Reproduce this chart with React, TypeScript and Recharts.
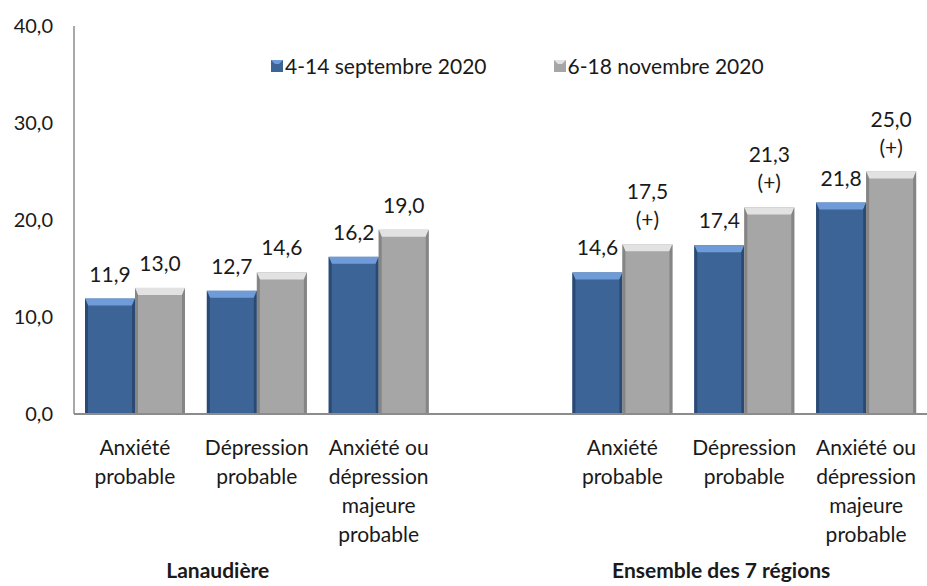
import { BarChart, Bar, XAxis, YAxis, Legend, LabelList } from "recharts";

const categories = [
  ["Anxiété", "probable"],
  ["Dépression", "probable"],
  ["Anxiété ou", "dépression", "majeure", "probable"],
  [],
  ["Anxiété", "probable"],
  ["Dépression", "probable"],
  ["Anxiété ou", "dépression", "majeure", "probable"],
];
const septembre = [11.9, 12.7, 16.2, null, 14.6, 17.4, 21.8];
const novembre = [13.0, 14.6, 19.0, null, 17.5, 21.3, 25.0];
const significatif = [false, false, false, false, true, true, true];
const groupes = [
  { index: 1, label: "Lanaudière", dx: -39 },
  { index: 5, label: "Ensemble des 7 régions", dx: -23 },
];
const yTicks = [0, 10, 20, 30, 40];

const data = categories.map((c, i) => ({
  key: "c" + i,
  sept: septembre[i],
  nov: novembre[i],
  sig: significatif[i],
}));

const FONT = "Lato, 'Open Sans', sans-serif";
const fmt = (v: number) => v.toFixed(1).replace(".", ",");

const palettes: Record<string, { main: string; top: string; side: string }> = {
  sept: { main: "#3C6496", top: "#6F9CD8", side: "#2A4A74" },
  nov: { main: "#A6A6A6", top: "#E2E2E2", side: "#858585" },
};

const BevelBar = (props: any) => {
  const { x, y, width, height, pal } = props;
  if (!height || height <= 0) return null;
  const p = palettes[pal];
  const b = 7;
  const s = 3;
  return (
    <g>
      <rect x={x} y={y} width={width} height={height} fill={p.main} />
      <polygon
        points={`${x},${y} ${x + width},${y} ${x + width - s},${y + b} ${x + s},${y + b}`}
        fill={p.top}
      />
      <polygon
        points={`${x},${y} ${x + s},${y + b} ${x + s},${y + height} ${x},${y + height}`}
        fill={p.side}
      />
      <polygon
        points={`${x + width},${y} ${x + width - s},${y + b} ${x + width - s},${y + height} ${x + width},${y + height}`}
        fill={p.side}
      />
    </g>
  );
};

// label value is "12,3" or "12,3|(+)"
const ValueLabel = (props: any) => {
  const { x, y, width, value } = props;
  if (value == null || value === "") return null;
  const cx = x + width / 2;
  const lines = String(value).split("|");
  return (
    <text textAnchor="middle" fontFamily={FONT} fontSize={21} fill="#1a1a1a">
      {lines.map((l, k) => (
        <tspan key={k} x={cx} y={y - 17 - (lines.length - 1 - k) * 28}>
          {l}
        </tspan>
      ))}
    </text>
  );
};

const CategoryTick = (props: any) => {
  const { x, y, payload } = props;
  const i = payload.index;
  const lines = categories[i] || [];
  const g = groupes.find((gr) => gr.index === i);
  return (
    <g>
      <text textAnchor="middle" fontFamily={FONT} fontSize={21} fill="#1a1a1a">
        {lines.map((l, k) => (
          <tspan key={k} x={x} y={y + 33 + k * 29}>
            {l}
          </tspan>
        ))}
      </text>
      {g && (
        <text
          x={x + g.dx}
          y={y + 156}
          textAnchor="middle"
          fontFamily={FONT}
          fontSize={21}
          fontWeight="bold"
          fill="#1a1a1a"
        >
          {g.label}
        </text>
      )}
    </g>
  );
};

const LegendIcon = ({ pal }: { pal: string }) => {
  const p = palettes[pal];
  return (
    <svg width={12} height={12} style={{ marginRight: 2 }}>
      <rect x={0} y={0} width={12} height={12} fill={p.main} />
      <polygon points="0,0 12,0 8,4 4,4" fill={p.top} />
    </svg>
  );
};

const CustomLegend = () => (
  <div
    style={{
      display: "flex",
      fontFamily: FONT,
      fontSize: 21,
      color: "#1a1a1a",
      paddingLeft: 271,
    }}
  >
    <div style={{ display: "flex", alignItems: "center", marginRight: 67 }}>
      <LegendIcon pal="sept" />
      4-14 septembre 2020
    </div>
    <div style={{ display: "flex", alignItems: "center" }}>
      <LegendIcon pal="nov" />
      6-18 novembre 2020
    </div>
  </div>
);

export default function App() {
  return (
    <div style={{ position: "absolute", left: 0, top: 0, background: "#fff" }}>
      <BarChart
        width={927}
        height={586}
        data={data}
        margin={{ top: 26, right: 0, left: 0, bottom: 0 }}
        barCategoryGap={11}
        barGap={0}
      >
        <XAxis
          dataKey="key"
          height={172}
          tick={<CategoryTick />}
          tickLine={false}
          axisLine={{ stroke: "#8c8c8c", strokeWidth: 2 }}
          interval={0}
        />
        <YAxis
          width={74}
          domain={[0, 40]}
          ticks={yTicks}
          tickFormatter={fmt}
          tickLine={false}
          axisLine={{ stroke: "#8c8c8c", strokeWidth: 1.5 }}
          tick={{ fill: "#1a1a1a", fontSize: 20, fontFamily: FONT }}
          tickMargin={15}
        />
        <Legend
          layout="horizontal"
          verticalAlign="middle"
          align="center"
          content={<CustomLegend />}
          wrapperStyle={{ top: 53, left: 0, width: 927 }}
        />
        <Bar
          dataKey="sept"
          isAnimationActive={false}
          shape={(p: any) => <BevelBar {...p} pal="sept" />}
        >
          <LabelList
            dataKey={(d: any) => (d.sept == null ? "" : fmt(d.sept))}
            content={<ValueLabel />}
          />
        </Bar>
        <Bar
          dataKey="nov"
          isAnimationActive={false}
          shape={(p: any) => <BevelBar {...p} pal="nov" />}
        >
          <LabelList
            dataKey={(d: any) =>
              d.nov == null ? "" : fmt(d.nov) + (d.sig ? "|(+)" : "")
            }
            content={<ValueLabel />}
          />
        </Bar>
      </BarChart>
    </div>
  );
}
